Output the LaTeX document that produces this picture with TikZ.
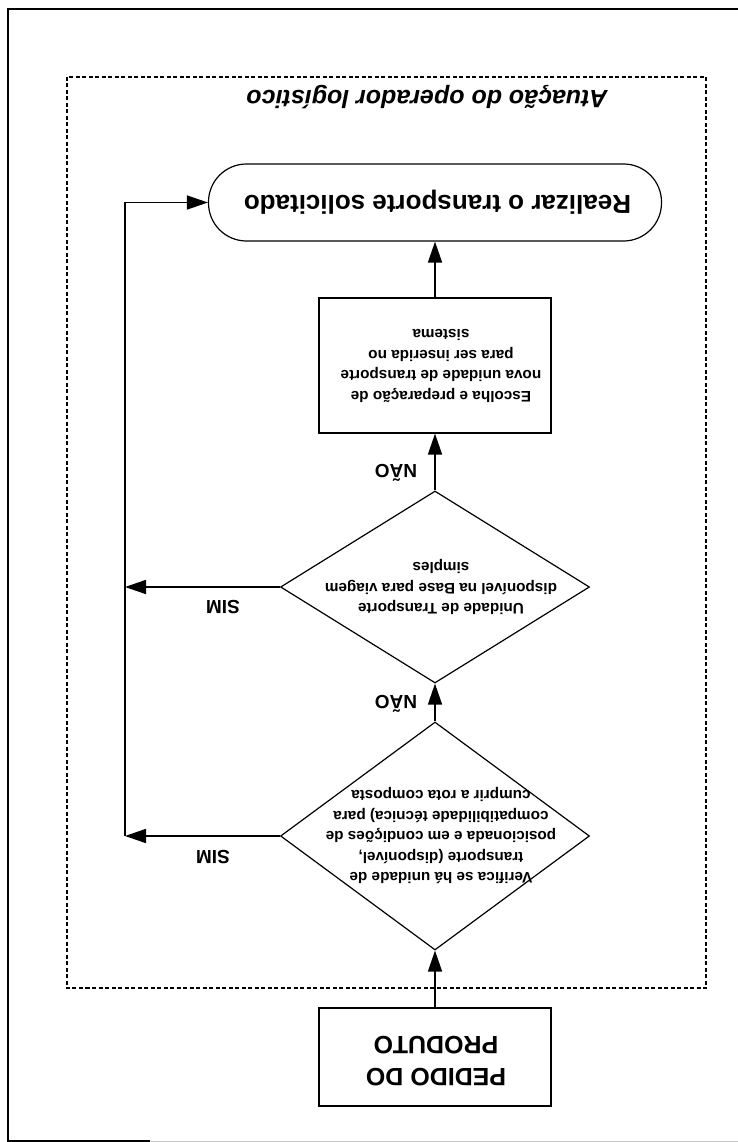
\documentclass[tikz,border=0pt]{standalone}
\usepackage{fontspec}
\setmainfont{Liberation Sans}
\usetikzlibrary{arrows.meta,shapes.geometric}

\begin{document}
\begin{tikzpicture}[x=1pt,y=-1pt,
  flow/.style={line width=1.6pt,-{Triangle[length=21pt,width=14pt]}},
  outline/.style={draw,line width=1.2pt,inner sep=0pt},
  procbox/.style={outline,rectangle,minimum width=232pt},
  decision/.style={outline,diamond,minimum width=309pt},
  endbox/.style={outline,rectangle,rounded corners=38pt,minimum width=453pt,minimum height=77pt},
  upside/.style={rotate=180,align=center,inner sep=0pt},
  smalltxt/.style={upside,font=\bfseries\fontsize{15.3}{20.5}\selectfont},
  lbl/.style={upside,font=\bfseries\fontsize{19}{22}\selectfont},
]
\useasboundingbox (0,0) rectangle (738,1142);

% page frame
\draw[line width=1.2pt] (738,9) -- (8,9) -- (8,1141) -- (150,1141);
\draw[line width=1pt,gray!45] (150,1141) -- (738,1141);

% dashed group
\draw[line width=1.2pt,dash pattern=on 4pt off 2.5pt] (67,77) rectangle (706,988);
\node[upside,font=\bfseries\itshape\fontsize{25}{28}\selectfont] (title) at (427,97)
  {Atuação do operador logístico};

% steps
\node[procbox,minimum height=98pt] (pedido) at (435,1057) {};
\node[upside,font=\bfseries\fontsize{25}{32}\selectfont] (pedidotxt) at (436,1061)
  {PEDIDO DO\\PRODUTO};

\node[decision,minimum height=228pt] (d1) at (435,836) {};
\node[smalltxt] (d1txt) at (441,836)
  {Verifica se há unidade de\\transporte (disponível,\\posicionada e em condições de\\compatibilidade técnica) para\\cumprir a rota composta};

\node[decision,minimum height=192pt] (d2) at (435,587) {};
\node[smalltxt] (d2txt) at (441,587)
  {Unidade de Transporte\\disponível na Base para viagem\\simples};

\node[procbox,minimum height=135pt] (escolha) at (435,365.5) {};
\node[smalltxt] (escolhatxt) at (441,366)
  {Escolha e preparação de\\nova unidade de transporte\\para ser inserida no\\sistema};

\node[endbox] (realizar) at (435,202.5) {};
\node[upside,font=\bfseries\fontsize{26}{30}\selectfont] (realizartxt) at (437.5,202)
  {Realizar o transporte solicitado};

% connectors
\coordinate (j1) at (125,836);
\coordinate (j2) at (125,587);
\draw[flow] (pedido.north) -- (d1.south);
\draw[flow] (d1.north) -- (d2.south);
\draw[flow] (d2.north) -- (escolha.south);
\draw[flow] (escolha.north) -- (realizar.south);
\draw[flow] (d1.west) -- (j1);
\draw[flow] (d2.west) -- (j2);
\draw[flow] (j1) |- (realizar.west);

% branch labels
\node[lbl] (nao1) at (396,704) {NÃO};
\node[lbl] (nao2) at (396,473) {NÃO};
\node[lbl] (sim1) at (213,857) {SIM};
\node[lbl] (sim2) at (223,607) {SIM};
\end{tikzpicture}
\end{document}
